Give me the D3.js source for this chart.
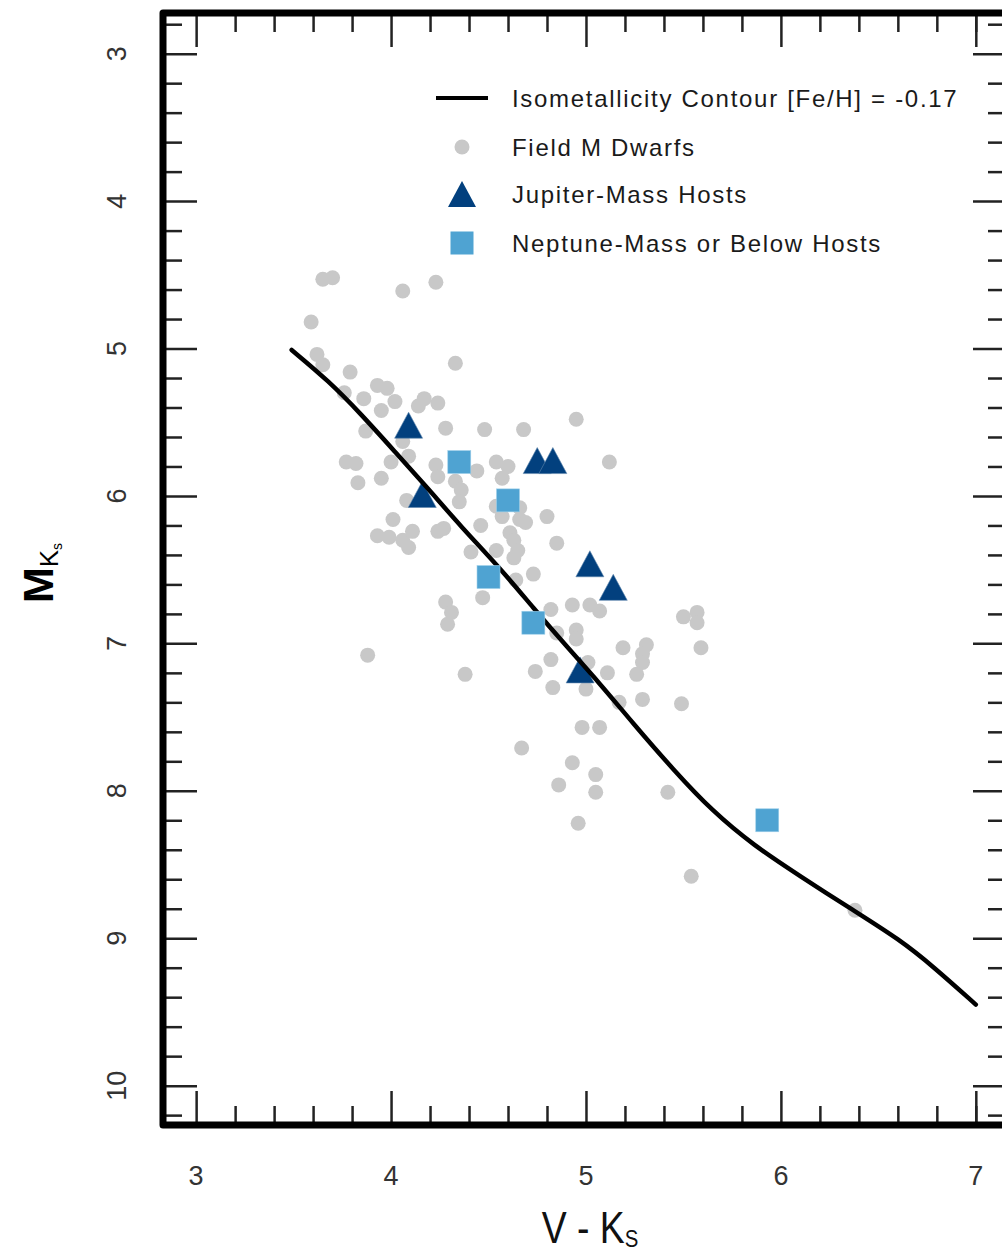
<!DOCTYPE html>
<html>
<head>
<meta charset="utf-8">
<script src="https://cdn.jsdelivr.net/npm/d3@7"></script>
<style>
  body { margin: 0; background: #fff; }
  text { font-family: "Liberation Sans", Arial, sans-serif; }
</style>
</head>
<body>
<div id="chart"></div>
<script>
'use strict'
/* DATA */
// field M dwarfs (grey dots)
var fieldVK = [3.65,3.70,4.06,4.23,3.59,3.62,3.65,3.79,4.33,3.93,3.98,3.76,3.86,4.02,3.95,4.17,4.24,4.14,4.28,4.48,
  4.68,4.95,3.87,4.06,3.77,3.82,4.00,4.09,4.23,4.24,3.83,3.95,4.33,4.36,4.44,4.54,4.60,4.57,5.12,4.08,
  4.35,4.54,4.66,4.66,4.57,4.69,4.80,4.01,4.46,3.93,3.99,4.06,4.11,4.09,4.24,4.27,4.61,4.63,4.65,4.85,
  4.41,4.54,4.63,4.73,4.64,4.47,4.28,4.31,4.29,4.82,4.93,5.02,5.07,5.50,5.57,5.57,4.95,4.95,4.85,5.19,
  5.31,5.29,5.29,5.26,5.59,4.82,4.74,5.01,5.11,3.88,4.38,4.83,5.00,5.17,5.29,5.49,4.98,5.07,4.67,4.93,
  5.05,5.05,4.86,5.42,4.96,5.54,6.38];
var fieldMK = [4.53,4.52,4.61,4.55,4.82,5.04,5.11,5.16,5.10,5.25,5.27,5.30,5.34,5.36,5.42,5.34,5.37,5.39,5.54,5.55,
  5.55,5.48,5.56,5.63,5.77,5.78,5.77,5.73,5.79,5.87,5.91,5.88,5.90,5.96,5.83,5.77,5.80,5.88,5.77,6.03,
  6.04,6.07,6.08,6.16,6.14,6.18,6.14,6.16,6.20,6.27,6.28,6.30,6.24,6.35,6.24,6.22,6.25,6.30,6.37,6.32,
  6.38,6.37,6.42,6.53,6.57,6.69,6.72,6.79,6.87,6.77,6.74,6.74,6.78,6.82,6.79,6.86,6.91,6.97,6.93,7.03,
  7.01,7.07,7.13,7.21,7.03,7.11,7.19,7.13,7.20,7.08,7.21,7.30,7.31,7.40,7.38,7.41,7.57,7.57,7.71,7.81,
  7.89,8.01,7.96,8.01,8.22,8.58,8.81];

// Jupiter-mass hosts (triangles)
var jupiterVK = [4.09, 4.16, 4.75, 4.83, 5.02, 5.14, 4.97];
var jupiterMK = [5.52, 5.99, 5.76, 5.76, 6.46, 6.62, 7.18];

// Neptune-mass or below hosts (squares)
var neptuneVK = [4.35, 4.60, 4.50, 4.73, 5.93];
var neptuneMK = [5.77, 6.03, 6.55, 6.86, 8.20];

// isometallicity contour [Fe/H] = -0.17
var contourVK = [3.49,3.68,3.85,4.02,4.19,4.36,4.56,4.73,4.90,5.07,5.24,5.45,5.65,5.86,6.10,6.37,6.61,6.78,7.00];
var contourMK = [5.01,5.22,5.45,5.70,5.95,6.21,6.49,6.76,7.02,7.27,7.54,7.86,8.14,8.37,8.58,8.81,9.01,9.19,9.45];

// ticks
var xMajor = [3, 4, 5, 6, 7];
var xMinor = [3.2,3.4,3.6,3.8,4.2,4.4,4.6,4.8,5.2,5.4,5.6,5.8,6.2,6.4,6.6,6.8,7.0];
var yMajor = [3, 4, 5, 6, 7, 8, 9, 10];
var yMinor = [2.8,3.2,3.4,3.6,3.8,4.2,4.4,4.6,4.8,5.2,5.4,5.6,5.8,6.2,6.4,6.6,6.8,7.2,7.4,7.6,7.8,
  8.2,8.4,8.6,8.8,9.2,9.4,9.6,9.8,10.2];

var legendLabels = ["Isometallicity Contour [Fe/H] = -0.17", "Field M Dwarfs", "Jupiter-Mass Hosts", "Neptune-Mass or Below Hosts"];

////--- D3 ----////
var width = 1002, height = 1255;
var frame = {left: 163, right: 1007, top: 13, bottom: 1125};
var majorLen = 34, minorLen = 19;
var grey = "#c8c8c8", dark = "#02407e", light = "#4fa3d2";

var x = d3.scaleLinear().domain([2.83, 7.16]).range([frame.left, frame.right]);
var y = d3.scaleLinear().domain([2.724, 10.267]).range([frame.top, frame.bottom]);

var svg = d3.select("#chart").append("svg")
  .attr("width", width)
  .attr("height", height);

// triangle path centred on its bounding box
function tri(w, h) {
  return "M0," + (-h / 2) + "L" + (w / 2) + "," + (h / 2) + "L" + (-w / 2) + "," + (h / 2) + "Z";
}

// grey field dwarfs
svg.append("g").selectAll("circle")
  .data(fieldVK.map((v, i) => [v, fieldMK[i]]))
  .enter().append("circle")
  .attr("cx", d => x(d[0]))
  .attr("cy", d => y(d[1]))
  .attr("r", 7.5)
  .attr("fill", grey);

// triangles
svg.append("g").selectAll("path")
  .data(jupiterVK.map((v, i) => [v, jupiterMK[i]]))
  .enter().append("path")
  .attr("d", tri(28, 26))
  .attr("transform", d => `translate(${x(d[0])},${y(d[1])})`)
  .attr("fill", dark)
  .attr("stroke", "#5f86ad")
  .attr("stroke-width", 0.6);

// contour -- basis spline keeps it smooth through the read points
var line = d3.line()
  .x(d => x(d[0]))
  .y(d => y(d[1]))
  .curve(d3.curveBasis);
svg.append("path")
  .datum(contourVK.map((v, i) => [v, contourMK[i]]))
  .attr("d", line)
  .attr("fill", "none")
  .attr("stroke", "#000")
  .attr("stroke-width", 4.5)
  .attr("stroke-linecap", "round");

// squares
var sq = 23;
svg.append("g").selectAll("rect")
  .data(neptuneVK.map((v, i) => [v, neptuneMK[i]]))
  .enter().append("rect")
  .attr("x", d => x(d[0]) - sq / 2)
  .attr("y", d => y(d[1]) - sq / 2)
  .attr("width", sq)
  .attr("height", sq)
  .attr("fill", light)
  .attr("stroke", "#9fd0ea")
  .attr("stroke-width", 0.6);

// ticks: d3 axes with inward ticks, no domain line
function ticks(axis, vals, len, tr) {
  var g = svg.append("g")
    .attr("transform", tr)
    .call(axis.tickValues(vals).tickSize(-len).tickFormat(""));
  g.select(".domain").remove();
  g.selectAll("line").attr("stroke", "#222").attr("stroke-width", 2.5);
}
ticks(d3.axisBottom(x), xMajor, majorLen, `translate(0,${frame.bottom})`);
ticks(d3.axisBottom(x), xMinor, minorLen, `translate(0,${frame.bottom})`);
ticks(d3.axisTop(x), xMajor, majorLen, `translate(0,${frame.top})`);
ticks(d3.axisTop(x), xMinor, minorLen, `translate(0,${frame.top})`);
ticks(d3.axisLeft(y), yMajor, majorLen, `translate(${frame.left},0)`);
ticks(d3.axisLeft(y), yMinor, minorLen, `translate(${frame.left},0)`);
ticks(d3.axisRight(y), yMajor, majorLen, `translate(${frame.right},0)`);
ticks(d3.axisRight(y), yMinor, minorLen, `translate(${frame.right},0)`);

// heavy frame
svg.append("rect")
  .attr("x", frame.left)
  .attr("y", frame.top)
  .attr("width", frame.right - frame.left)
  .attr("height", frame.bottom - frame.top)
  .attr("fill", "none")
  .attr("stroke", "#000")
  .attr("stroke-width", 7)
  .attr("stroke-linejoin", "round");

// tick labels
svg.append("g").selectAll("text")
  .data(xMajor)
  .enter().append("text")
  .attr("x", d => x(d))
  .attr("y", 1185)
  .attr("text-anchor", "middle")
  .attr("font-size", 27)
  .attr("fill", "#333")
  .text(d => d);

svg.append("g").selectAll("text")
  .data(yMajor)
  .enter().append("text")
  .attr("transform", d => `translate(126,${y(d)}) rotate(-90)`)
  .attr("text-anchor", "middle")
  .attr("font-size", 27)
  .attr("fill", "#333")
  .text(d => d);

// axis titles
var xt = svg.append("text")
  .attr("transform", "translate(590,1243) scale(0.85,1)")
  .attr("text-anchor", "middle")
  .attr("font-size", 44)
  .attr("fill", "#111");
xt.append("tspan").text("V - K");
xt.append("tspan").attr("font-size", 24).attr("dy", 4).text("S");

var yt = svg.append("text")
  .attr("transform", "translate(53,573) rotate(-90)")
  .attr("text-anchor", "middle")
  .attr("fill", "#000");
yt.append("tspan").attr("font-size", 43).attr("font-weight", "bold").text("M");
yt.append("tspan").attr("font-size", 26).attr("dy", 5).text("K");
yt.append("tspan").attr("font-size", 14).attr("dy", 4).text("s");

// legend
var legY = [98, 147, 194, 243];
var leg = svg.append("g");
leg.append("line")
  .attr("x1", 436).attr("x2", 488)
  .attr("y1", legY[0]).attr("y2", legY[0])
  .attr("stroke", "#000").attr("stroke-width", 4);
leg.append("circle")
  .attr("cx", 462).attr("cy", legY[1]).attr("r", 7.5).attr("fill", grey);
leg.append("path")
  .attr("d", tri(28, 26))
  .attr("transform", `translate(462,${legY[2]})`)
  .attr("fill", dark);
leg.append("rect")
  .attr("x", 462 - sq / 2).attr("y", legY[3] - sq / 2)
  .attr("width", sq).attr("height", sq)
  .attr("fill", light);
leg.selectAll("text")
  .data(legendLabels)
  .enter().append("text")
  .attr("x", 512)
  .attr("y", (d, i) => legY[i])
  .attr("dy", "0.36em")
  .attr("font-size", 24)
  .attr("letter-spacing", 1.7)
  .attr("fill", "#1a1a1a")
  .text(d => d);
</script>
</body>
</html>
